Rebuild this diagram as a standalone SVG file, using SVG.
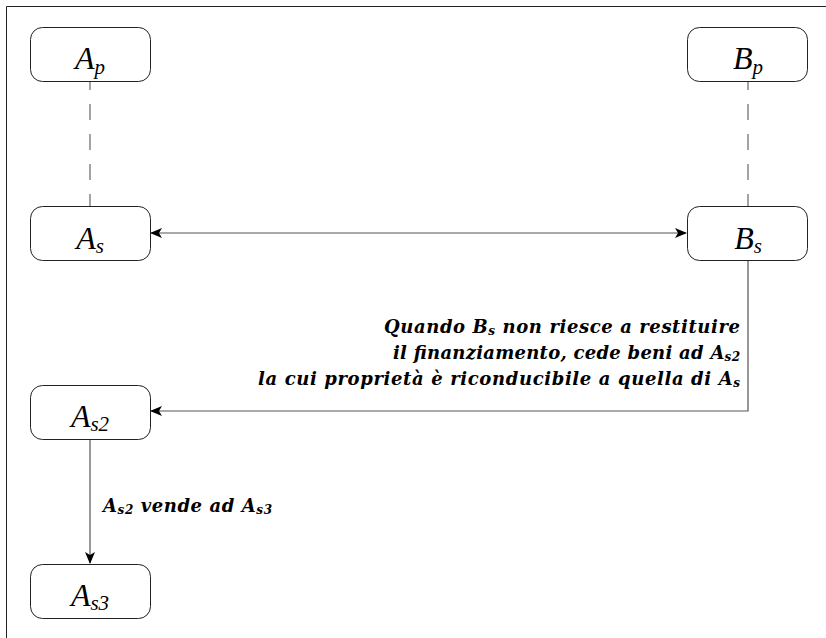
<svg xmlns="http://www.w3.org/2000/svg" width="826" height="638" viewBox="0 0 826 638">
<defs>
<style>
.box{fill:#fff;stroke:#222;stroke-width:1}
.ln{fill:none;stroke:#555;stroke-width:1.2}
.dash{fill:none;stroke:#666;stroke-width:1.2;stroke-dasharray:16 14;stroke-dashoffset:7}
.nt{font-family:"Liberation Serif","DejaVu Serif",serif;font-style:italic;font-size:32px;fill:#000;text-anchor:middle}
.sub{font-size:21px}
.lb{font-family:"DejaVu Serif","Liberation Serif",serif;font-style:italic;font-weight:bold;font-size:18px;fill:#000}
.ls{font-size:12px}
</style>
<marker id="ah" viewBox="0 0 12 10" refX="11" refY="5" markerWidth="12" markerHeight="10" markerUnits="userSpaceOnUse" orient="auto-start-reverse">
<path d="M0,0 L12,5 L0,10 L3,5 Z" fill="#000"/>
</marker>
</defs>
<rect width="826" height="638" fill="#fff"/>
<path d="M6.5,638 V6.5 H826" fill="none" stroke="#222" stroke-width="1"/>
<g id="connectors">
<line class="dash" x1="90" y1="81" x2="90" y2="206"/>
<line class="dash" x1="748" y1="81" x2="748" y2="206"/>
<line class="ln" x1="151" y1="233" x2="686" y2="233" marker-start="url(#ah)" marker-end="url(#ah)"/>
<path class="ln" d="M748,260 V411 H151" marker-end="url(#ah)"/>
<line class="ln" x1="90" y1="440" x2="90" y2="563" marker-end="url(#ah)"/>
<text class="lb" text-anchor="end"><tspan x="740" y="333" textLength="356" lengthAdjust="spacing">Quando B<tspan class="ls" dy="2">s</tspan><tspan dy="-2"> non riesce a restituire</tspan></tspan><tspan x="740" y="359" textLength="347" lengthAdjust="spacing">il finanziamento, cede beni ad A<tspan class="ls" dy="2">s2</tspan></tspan><tspan x="740" y="385" textLength="482" lengthAdjust="spacing">la cui proprietà è riconducibile a quella di A<tspan class="ls" dy="2">s</tspan></tspan></text>
<text class="lb" x="103" y="512" textLength="169" lengthAdjust="spacing">A<tspan class="ls" dy="2">s2</tspan><tspan dy="-2"> vende ad A</tspan><tspan class="ls" dy="2">s3</tspan></text>
</g>
<g id="node-Ap">
<rect class="box" x="30.5" y="27.5" width="120" height="54" rx="12"/>
<text class="nt" x="90" y="69">A<tspan class="sub" dy="5">p</tspan></text>
</g>
<g id="node-Bp">
<rect class="box" x="687.5" y="27.5" width="120" height="54" rx="12"/>
<text class="nt" x="748" y="69">B<tspan class="sub" dy="5">p</tspan></text>
</g>
<g id="node-As">
<rect class="box" x="30.5" y="206.5" width="120" height="54" rx="12"/>
<text class="nt" x="90" y="249">A<tspan class="sub" dy="4">s</tspan></text>
</g>
<g id="node-Bs">
<rect class="box" x="687.5" y="206.5" width="120" height="54" rx="12"/>
<text class="nt" x="748" y="249">B<tspan class="sub" dy="4">s</tspan></text>
</g>
<g id="node-As2">
<rect class="box" x="30.5" y="385.5" width="120" height="54" rx="12"/>
<text class="nt" x="90" y="427">A<tspan class="sub" dy="4">s2</tspan></text>
</g>
<g id="node-As3">
<rect class="box" x="30.5" y="564.5" width="120" height="54" rx="12"/>
<text class="nt" x="90" y="606">A<tspan class="sub" dy="4">s3</tspan></text>
</g>
</svg>
